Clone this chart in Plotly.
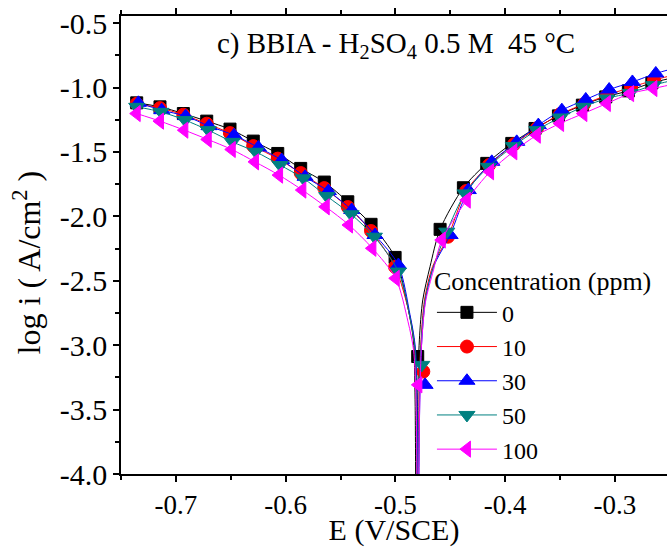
import plotly.graph_objects as go

# Tafel polarisation curves, BBIA in 0.5 M H2SO4 at 45 °C
labels = ["0", "10", "30", "50", "100"]
colors = ["#000000", "#FF0000", "#0000FF", "#008080", "#FF00FF"]
symbols = ["square", "circle", "triangle-up", "triangle-down", "triangle-left"]
msizes = [12, 13, 14, 14, 14]

# ---- 0 ppm ----
e_cath_0 = [-0.7357, -0.7145, -0.6932, -0.6719, -0.6507, -0.6295, -0.6072, -0.5863, -0.5648, -0.5434, -0.5222, -0.5003]
i_cath_0 = [-1.119, -1.150, -1.202, -1.261, -1.323, -1.416, -1.512, -1.628, -1.734, -1.887, -2.062, -2.319]
e_dip_0, i_dip_0 = [-0.4797], [-3.088]
e_anod_0 = [-0.4593, -0.4381, -0.4168, -0.3940, -0.3728, -0.3515, -0.3297, -0.3084, -0.2878, -0.2664]
i_anod_0 = [-2.101, -1.778, -1.589, -1.434, -1.318, -1.220, -1.137, -1.073, -1.026, -0.964]
e_well_0 = [-0.4882, -0.4837, -0.4821, -0.4812, -0.4797, -0.4782, -0.4751, -0.4685]
i_well_0 = [-2.726, -2.959, -3.424, -4.602, -3.424, -2.959, -2.649, -2.391]
e_end_0, i_end_0 = [-0.2500], [-0.930]

# ---- 10 ppm ----
e_cath_10 = [-0.7357, -0.7145, -0.6932, -0.6719, -0.6507, -0.6295, -0.6072, -0.5863, -0.5648, -0.5434, -0.5222, -0.5003]
i_cath_10 = [-1.126, -1.160, -1.211, -1.281, -1.354, -1.455, -1.552, -1.664, -1.781, -1.928, -2.114, -2.393]
e_dip_10, i_dip_10 = [-0.4746], [-3.205]
e_anod_10 = [-0.4521, -0.4356, -0.4147, -0.3919, -0.3710, -0.3500, -0.3281, -0.3072, -0.2853, -0.2644]
i_anod_10 = [-2.158, -1.804, -1.602, -1.440, -1.316, -1.207, -1.129, -1.060, -0.998, -0.943]
e_well_10 = [-0.4871, -0.4826, -0.4809, -0.4800, -0.4785, -0.4769, -0.4735, -0.4662]
i_well_10 = [-2.765, -2.998, -3.424, -4.602, -3.424, -2.998, -2.649, -2.391]
e_end_10, i_end_10 = [-0.2500], [-0.910]

# ---- 30 ppm ----
e_cath_30 = [-0.7342, -0.7129, -0.6911, -0.6698, -0.6470, -0.6249, -0.6036, -0.5823, -0.5611, -0.5398, -0.5186, -0.4973]
i_cath_30 = [-1.119, -1.176, -1.222, -1.300, -1.370, -1.465, -1.563, -1.693, -1.804, -1.951, -2.145, -2.378]
e_dip_30, i_dip_30 = [-0.4730], [-3.308]
e_anod_30 = [-0.4502, -0.4336, -0.4122, -0.3895, -0.3698, -0.3484, -0.3266, -0.3053, -0.2841, -0.2628]
i_anod_30 = [-2.145, -1.796, -1.577, -1.422, -1.292, -1.176, -1.093, -1.016, -0.957, -0.891]
e_well_30 = [-0.4867, -0.4821, -0.4803, -0.4794, -0.4778, -0.4762, -0.4726, -0.4653]
i_well_30 = [-2.765, -2.998, -3.424, -4.602, -3.424, -2.998, -2.649, -2.391]
e_end_30, i_end_30 = [-0.2500], [-0.860]

# ---- 50 ppm ----
e_cath_50 = [-0.7357, -0.7136, -0.6917, -0.6705, -0.6486, -0.6273, -0.6051, -0.5839, -0.5626, -0.5404, -0.5192, -0.4973]
i_cath_50 = [-1.150, -1.189, -1.253, -1.331, -1.422, -1.499, -1.602, -1.705, -1.843, -1.984, -2.158, -2.429]
e_dip_50, i_dip_50 = [-0.4760], [-3.153]
e_anod_50 = [-0.4532, -0.4366, -0.4153, -0.3926, -0.3712, -0.3500, -0.3288, -0.3074, -0.2862, -0.2650]
i_anod_50 = [-2.119, -1.822, -1.616, -1.455, -1.331, -1.233, -1.150, -1.085, -1.042, -0.982]
e_well_50 = [-0.4867, -0.4824, -0.4808, -0.4798, -0.4782, -0.4767, -0.4730, -0.4657]
i_well_50 = [-2.788, -3.013, -3.424, -4.602, -3.424, -2.998, -2.649, -2.401]
e_end_50, i_end_50 = [-0.2500], [-0.950]

# ---- 100 ppm ----
e_cath_100 = [-0.7357, -0.7145, -0.6923, -0.6710, -0.6491, -0.6279, -0.6060, -0.5848, -0.5635, -0.5423, -0.5210, -0.4997]
i_cath_100 = [-1.202, -1.261, -1.331, -1.403, -1.481, -1.577, -1.680, -1.796, -1.926, -2.067, -2.248, -2.481]
e_dip_100, i_dip_100 = [-0.4791], [-3.308]
e_anod_100 = [-0.4578, -0.4350, -0.4138, -0.3926, -0.3712, -0.3500, -0.3288, -0.3074, -0.2862, -0.2650]
i_anod_100 = [-2.184, -1.874, -1.654, -1.499, -1.370, -1.279, -1.202, -1.124, -1.047, -1.008]
e_well_100 = [-0.4885, -0.4835, -0.4812, -0.4798, -0.4778, -0.4762, -0.4726, -0.4653]
i_well_100 = [-2.819, -3.037, -3.424, -4.602, -3.424, -2.998, -2.664, -2.416]
e_end_100, i_end_100 = [-0.2500], [-0.980]

# axis ticks
x_tickvals = [-0.7, -0.6, -0.5, -0.4, -0.3]
x_ticktext = ["-0.7", "-0.6", "-0.5", "-0.4", "-0.3"]
y_tickvals = [-4.0, -3.5, -3.0, -2.5, -2.0, -1.5, -1.0, -0.5]
y_ticktext = ["-4.0", "-3.5", "-3.0", "-2.5", "-2.0", "-1.5", "-1.0", "-0.5"]

series = [
    (e_cath_0, i_cath_0, e_dip_0, i_dip_0, e_anod_0, i_anod_0, e_well_0, i_well_0, e_end_0, i_end_0),
    (e_cath_10, i_cath_10, e_dip_10, i_dip_10, e_anod_10, i_anod_10, e_well_10, i_well_10, e_end_10, i_end_10),
    (e_cath_30, i_cath_30, e_dip_30, i_dip_30, e_anod_30, i_anod_30, e_well_30, i_well_30, e_end_30, i_end_30),
    (e_cath_50, i_cath_50, e_dip_50, i_dip_50, e_anod_50, i_anod_50, e_well_50, i_well_50, e_end_50, i_end_50),
    (e_cath_100, i_cath_100, e_dip_100, i_dip_100, e_anod_100, i_anod_100, e_well_100, i_well_100, e_end_100, i_end_100),
]

FONT = "Liberation Serif"
fig = go.Figure()

for k, (ec, ic, ed, idp, ea, ia, ew, iw, ee, ie) in enumerate(series):
    col = colors[k]
    # continuous polarisation curve
    fig.add_trace(go.Scatter(
        x=ec + ew + ea + ee, y=ic + iw + ia + ie, mode="lines",
        line=dict(color=col, width=1, shape="spline", smoothing=0.8),
        showlegend=False, hoverinfo="skip"))
    # sampled points
    fig.add_trace(go.Scatter(
        x=ec + ed + ea, y=ic + idp + ia, mode="markers",
        marker=dict(symbol=symbols[k], size=msizes[k], color=col,
                    line=dict(color=col, width=1)),
        showlegend=False))
    # legend entry
    fig.add_trace(go.Scatter(
        x=[None], y=[None], mode="lines+markers", name=labels[k],
        line=dict(color=col, width=1),
        marker=dict(symbol=symbols[k], size=msizes[k], color=col,
                    line=dict(color=col, width=1)),
        legendgroup=labels[k]))

axis_common = dict(
    showline=True, linecolor="black", linewidth=1.5,
    ticks="outside", ticklen=6, tickwidth=1.5, tickcolor="black",
    showgrid=False, zeroline=False,
)

fig.update_layout(
    width=667, height=547,
    margin=dict(l=121, r=0, t=16, b=73),
    plot_bgcolor="white", paper_bgcolor="white",
    font=dict(family=FONT, color="black", size=26),
    xaxis=dict(
        range=[-0.75, -0.2526], tickvals=x_tickvals, ticktext=x_ticktext,
        mirror="ticks",
        tickfont=dict(family=FONT, size=27, color="black"),
        minor=dict(ticks="outside", ticklen=4, tickwidth=1.5, dtick=0.05, tick0=-0.7, tickcolor="black"),
        title=dict(text="E (V/SCE)", font=dict(family=FONT, size=30), standoff=2),
        automargin=False, **axis_common),
    yaxis=dict(
        range=[-4.0, -0.445], tickvals=y_tickvals, ticktext=y_ticktext,
        mirror=False,
        tickfont=dict(family=FONT, size=30, color="black"),
        minor=dict(ticks="outside", ticklen=4, tickwidth=1.5, dtick=0.25, tick0=-4.0, tickcolor="black"),
        automargin=False, **axis_common),
    legend=dict(
        x=0.5695, y=0.475, xanchor="left", yanchor="top",
        bgcolor="rgba(0,0,0,0)", borderwidth=0,
        font=dict(family=FONT, size=24, color="black"),
        title=dict(text="Concentration (ppm)", font=dict(family=FONT, size=26)),
        itemwidth=60, tracegroupgap=0, traceorder="normal",
    ),
    annotations=[
        dict(text="c) BBIA - H<sub>2</sub>SO<sub>4</sub> 0.5 M&nbsp; 45 °C",
             xref="paper", yref="paper", x=0.5037, y=0.937,
             xanchor="center", yanchor="middle", showarrow=False,
             font=dict(family=FONT, size=29, color="black")),
        # y-axis title
        dict(text="log i ( A/cm<sup>2</sup> )", textangle=-90,
             xref="paper", yref="paper", x=0, y=0.462, xshift=-94,
             xanchor="center", yanchor="middle", showarrow=False,
             font=dict(family=FONT, size=32, color="black")),
    ],
)

fig.write_html("out.html")
